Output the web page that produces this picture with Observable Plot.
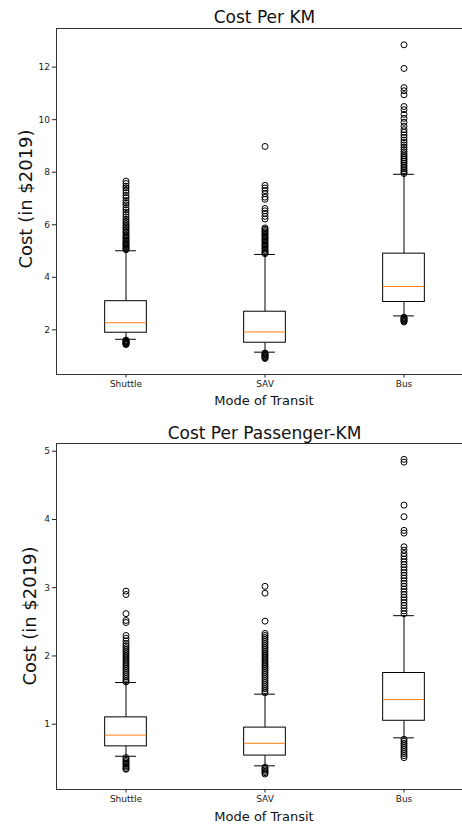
<!DOCTYPE html>
<html>
<head>
<meta charset="utf-8">
<script src="https://cdn.jsdelivr.net/npm/d3@7"></script>
<script src="https://cdn.jsdelivr.net/npm/@observablehq/plot@0.6"></script>
<style>
  html, body { margin: 0; padding: 0; background: #fff; overflow: hidden; width: 462px; height: 827px; }
  body { position: relative; font-family: "DejaVu Sans", sans-serif; color: #111; }
  .abs { position: absolute; white-space: nowrap; z-index: 2; }
  .title { font-size: 17px; transform: translate(-50%, -50%); }
  .xlabel { font-size: 13px; transform: translate(-50%, -50%); }
  .ylabel { font-size: 18px; transform: translate(-50%, -50%) rotate(-90deg); }
  svg.chart { position: absolute; left: 0; overflow: visible; background: transparent; max-width: none !important; width: 480px !important; height: 380px !important; }
</style>
</head>
<body>
<script>
// ---- data ----
const categories = ["Shuttle", "SAV", "Bus"];

// Cost per KM
const kmQ1 = [1.89, 1.51, 3.06];
const kmMedian = [2.27, 1.92, 3.65];
const kmQ3 = [3.09, 2.69, 4.90];
const kmWhiskerLow = [1.64, 1.15, 2.53];
const kmWhiskerHigh = [5.01, 4.87, 7.92];
const kmShuttleHigh = [7.66, 7.57, 7.47, 7.4, 7.31, 7.22, 7.11, 7.03, 6.92, 6.84, 6.76, 6.65, 6.57, 6.48, 6.39, 6.3, 6.21, 6.13, 6.05, 5.98, 5.92, 5.86, 5.8, 5.74, 5.69, 5.62, 5.57, 5.52, 5.47, 5.42, 5.37, 5.32, 5.28, 5.24, 5.2, 5.16, 5.12, 5.08, 5.05];
const kmShuttleLow = [1.61, 1.58, 1.56, 1.54, 1.52, 1.5, 1.48, 1.46, 1.44];
const kmSAVHigh = [8.98, 7.5, 7.4, 7.3, 7.18, 7.05, 6.97, 6.62, 6.53, 6.43, 6.32, 6.22, 5.88, 5.83, 5.78, 5.73, 5.68, 5.63, 5.58, 5.53, 5.48, 5.43, 5.38, 5.33, 5.28, 5.23, 5.18, 5.13, 5.08, 5.03, 4.98, 4.94, 4.9];
const kmSAVLow = [1.12, 1.09, 1.06, 1.03, 1.0, 0.97, 0.94, 0.91];
const kmBusHigh = [12.85, 11.95, 11.22, 11.1, 10.95, 10.5, 10.38, 10.2, 10.05, 9.9, 9.75, 9.62, 9.52, 9.42, 9.32, 9.22, 9.13, 9.04, 8.95, 8.86, 8.78, 8.7, 8.62, 8.55, 8.48, 8.41, 8.34, 8.27, 8.2, 8.13, 8.06, 8.0, 7.95];
const kmBusLow = [2.48, 2.45, 2.42, 2.39, 2.36, 2.33, 2.3];
const kmTicks = [2, 4, 6, 8, 10, 12];

// Cost per passenger-KM
const pkmQ1 = [0.675, 0.54, 1.05];
const pkmMedian = [0.84, 0.72, 1.36];
const pkmQ3 = [1.10, 0.95, 1.75];
const pkmWhiskerLow = [0.53, 0.39, 0.80];
const pkmWhiskerHigh = [1.61, 1.44, 2.59];
const pkmShuttleHigh = [2.95, 2.9, 2.62, 2.52, 2.49, 2.3, 2.26, 2.22, 2.18, 2.15, 2.12, 2.09, 2.06, 2.03, 2.0, 1.97, 1.94, 1.91, 1.88, 1.85, 1.82, 1.79, 1.76, 1.73, 1.7, 1.67, 1.64, 1.62];
const pkmShuttleLow = [0.51, 0.49, 0.47, 0.45, 0.43, 0.41, 0.39, 0.37, 0.35, 0.34];
const pkmSAVHigh = [3.02, 2.92, 2.51, 2.33, 2.3, 2.27, 2.24, 2.21, 2.18, 2.15, 2.12, 2.09, 2.06, 2.03, 2.0, 1.97, 1.94, 1.91, 1.88, 1.85, 1.82, 1.79, 1.76, 1.73, 1.7, 1.67, 1.64, 1.61, 1.58, 1.55, 1.52, 1.49, 1.46];
const pkmSAVLow = [0.37, 0.35, 0.33, 0.31, 0.29, 0.27];
const pkmBusHigh = [4.88, 4.84, 4.21, 4.04, 3.84, 3.8, 3.6, 3.55, 3.5, 3.46, 3.42, 3.38, 3.34, 3.3, 3.26, 3.22, 3.18, 3.14, 3.1, 3.06, 3.02, 2.98, 2.94, 2.9, 2.86, 2.82, 2.78, 2.74, 2.7, 2.66, 2.62];
const pkmBusLow = [0.78, 0.75, 0.72, 0.69, 0.66, 0.63, 0.6, 0.57, 0.54, 0.51];
const pkmTicks = [1, 2, 3, 4, 5];

// ---- build ----
function stats(q1, med, q3, lo, hi) {
  return categories.map((c, i) => ({pos: i + 1, cat: c, q1: q1[i], median: med[i], q3: q3[i], lo: lo[i], hi: hi[i]}));
}
function outliers(lists) {
  const out = [];
  lists.forEach((arr, i) => arr.forEach(v => out.push({pos: i + 1, value: v})));
  return out;
}

const HALF = 0.15, CAP = 0.075;

function boxChart(st, outs, yDomain, ticks) {
  const svg = Plot.plot({
    width: 480, height: 380,
    marginLeft: 56, marginRight: 7, marginTop: 10, marginBottom: 24,
    style: {fontFamily: "DejaVu Sans, sans-serif", fontSize: "9px", color: "#222", background: "transparent"},
    x: {type: "linear", domain: [0.5, 3.5], ticks: [1, 2, 3], tickFormat: d => categories[d - 1], label: null, tickSize: 3.5, tickPadding: 3},
    y: {domain: yDomain, ticks: ticks, tickFormat: d => String(d), label: null, tickSize: 4, tickPadding: 2.5},
    marks: [
      Plot.frame({stroke: "#333", strokeWidth: 1}),
      Plot.ruleX(st, {x: "pos", y1: "q3", y2: "hi", stroke: "black", strokeWidth: 1}),
      Plot.ruleX(st, {x: "pos", y1: "lo", y2: "q1", stroke: "black", strokeWidth: 1}),
      Plot.ruleY(st, {y: "hi", x1: d => d.pos - CAP, x2: d => d.pos + CAP, stroke: "black", strokeWidth: 1}),
      Plot.ruleY(st, {y: "lo", x1: d => d.pos - CAP, x2: d => d.pos + CAP, stroke: "black", strokeWidth: 1}),
      Plot.rect(st, {x1: d => d.pos - HALF, x2: d => d.pos + HALF, y1: "q1", y2: "q3", fill: "white", stroke: "black", strokeWidth: 1}),
      Plot.ruleY(st, {y: "median", x1: d => d.pos - HALF, x2: d => d.pos + HALF, stroke: "#ff7f0e", strokeWidth: 1}),
      Plot.dot(outs, {x: "pos", y: "value", r: 3, stroke: "black", fill: "none", strokeWidth: 1})
    ]
  });
  svg.classList.add("chart");
  return svg;
}

function addText(text, cls, x, y) {
  const d = document.createElement("div");
  d.className = "abs " + cls;
  d.textContent = text;
  d.style.left = x + "px";
  d.style.top = y + "px";
  document.body.appendChild(d);
}

const top1 = boxChart(
  stats(kmQ1, kmMedian, kmQ3, kmWhiskerLow, kmWhiskerHigh),
  outliers([[...kmShuttleHigh, ...kmShuttleLow], [...kmSAVHigh, ...kmSAVLow], [...kmBusHigh, ...kmBusLow]]),
  [0.30, 13.47], kmTicks
);
top1.style.top = "18px";
document.body.appendChild(top1);

const top2 = boxChart(
  stats(pkmQ1, pkmMedian, pkmQ3, pkmWhiskerLow, pkmWhiskerHigh),
  outliers([[...pkmShuttleHigh, ...pkmShuttleLow], [...pkmSAVHigh, ...pkmSAVLow], [...pkmBusHigh, ...pkmBusLow]]),
  [0.043, 5.113], pkmTicks
);
top2.style.top = "433px";
document.body.appendChild(top2);

addText("Cost Per KM", "title", 264.5, 17);
addText("Mode of Transit", "xlabel", 264, 400);
addText("Cost (in $2019)", "ylabel", 25, 199);

addText("Cost Per Passenger-KM", "title", 264.5, 433);
addText("Mode of Transit", "xlabel", 264, 815.5);
addText("Cost (in $2019)", "ylabel", 29, 616);
</script>
</body>
</html>
